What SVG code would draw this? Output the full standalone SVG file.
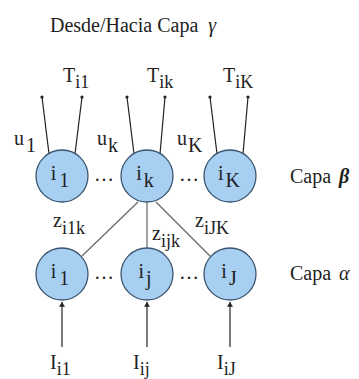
<svg xmlns="http://www.w3.org/2000/svg" width="359" height="379" viewBox="0 0 359 379" font-family="'Liberation Serif','Times New Roman',serif">
<defs>
<style>
text{font-family:"Liberation Serif","Times New Roman",serif;fill:#1e1e1e;font-size:20px}
.sub{font-size:18px}
.node circle{fill:#a7cff2;stroke:#3a5570;stroke-width:1.3}
.lbl{text-anchor:middle}
.w{stroke:#222;stroke-width:1.2;fill:none}
.z{stroke:#666;stroke-width:1.2;fill:none}
.dot{fill:#222}
</style>
<marker id="ah" viewBox="0 0 8 10" refX="8" refY="5" markerWidth="5" markerHeight="6" orient="auto" markerUnits="userSpaceOnUse">
<path d="M0,0 L8,5 L0,10 Z" fill="#222"/>
</marker>
</defs>
<rect width="359" height="379" fill="#fff"/>
<text x="50" y="32" font-size="21">Desde/Hacia Capa <tspan dx="5" font-style="italic">γ</tspan></text>

<g id="connectors">
<line class="w" x1="42" y1="97" x2="49" y2="154"/>
<line class="w" x1="82" y1="97" x2="75" y2="154"/>
<line class="w" x1="127" y1="97" x2="134" y2="154"/>
<line class="w" x1="165" y1="97" x2="160" y2="154"/>
<line class="w" x1="210" y1="97" x2="217" y2="154"/>
<line class="w" x1="248" y1="97" x2="243" y2="154"/>
<circle class="dot" cx="42" cy="97" r="1.6"/>
<circle class="dot" cx="82" cy="97" r="1.6"/>
<circle class="dot" cx="127" cy="97" r="1.6"/>
<circle class="dot" cx="165" cy="97" r="1.6"/>
<circle class="dot" cx="210" cy="97" r="1.6"/>
<circle class="dot" cx="248" cy="97" r="1.6"/>
<line class="z" x1="138" y1="202" x2="82" y2="256"/>
<line class="z" x1="147" y1="202" x2="147" y2="248"/>
<line class="z" x1="156" y1="202" x2="211" y2="257"/>
<line class="w" x1="62" y1="347" x2="62" y2="302" marker-end="url(#ah)"/>
<line class="w" x1="147" y1="347" x2="147" y2="302" marker-end="url(#ah)"/>
<line class="w" x1="230" y1="347" x2="230" y2="302" marker-end="url(#ah)"/>
</g>

<g id="labels-top">
<text x="63" y="82">T<tspan class="sub" dy="6">i1</tspan></text>
<text x="147" y="82">T<tspan class="sub" dy="6">ik</tspan></text>
<text x="223" y="82">T<tspan class="sub" dy="6">iK</tspan></text>
<text x="14" y="145">u<tspan dy="7" dx="2">1</tspan></text>
<text x="97" y="145">u<tspan dy="7" dx="1">k</tspan></text>
<text x="177" y="145">u<tspan dy="7" dx="1">K</tspan></text>
<text x="53" y="227">z<tspan class="sub" dy="7">i1k</tspan></text>
<text x="152" y="240">z<tspan class="sub" dy="7">ijk</tspan></text>
<text x="195" y="227">z<tspan class="sub" dy="7">iJK</tspan></text>
</g>

<g id="node-i1-beta" class="node"><circle cx="62" cy="176" r="26"/><text class="lbl" x="60" y="180">i<tspan dx="3" dy="7">1</tspan></text></g>
<g id="node-ik-beta" class="node"><circle cx="147" cy="176" r="26"/><text class="lbl" x="145" y="180">i<tspan dx="2" dy="7">k</tspan></text></g>
<g id="node-iK-beta" class="node"><circle cx="230" cy="176" r="26"/><text class="lbl" x="229" y="180">i<tspan dx="2" dy="7">K</tspan></text></g>
<text class="lbl" x="104" y="181" font-size="22">…</text>
<text class="lbl" x="189" y="181" font-size="22">…</text>

<g id="node-i1-alpha" class="node"><circle cx="62" cy="274" r="26"/><text class="lbl" x="60" y="278">i<tspan dx="3" dy="7">1</tspan></text></g>
<g id="node-ij-alpha" class="node"><circle cx="147" cy="274" r="26"/><text class="lbl" x="145" y="278">i<tspan dx="2" dy="7">j</tspan></text></g>
<g id="node-iJ-alpha" class="node"><circle cx="230" cy="274" r="26"/><text class="lbl" x="229" y="278">i<tspan dx="2" dy="7">J</tspan></text></g>
<text class="lbl" x="104" y="279" font-size="22">…</text>
<text class="lbl" x="189" y="279" font-size="22">…</text>

<text x="290" y="183">Capa <tspan dx="3" font-style="italic" font-weight="bold">β</tspan></text>
<text x="290" y="280">Capa <tspan dx="3" font-style="italic">α</tspan></text>

<g id="labels-bottom">
<text x="50" y="369">I<tspan class="sub" dy="6">i1</tspan></text>
<text x="133" y="369">I<tspan class="sub" dy="6">ij</tspan></text>
<text x="217" y="369">I<tspan class="sub" dy="6">iJ</tspan></text>
</g>
</svg>
